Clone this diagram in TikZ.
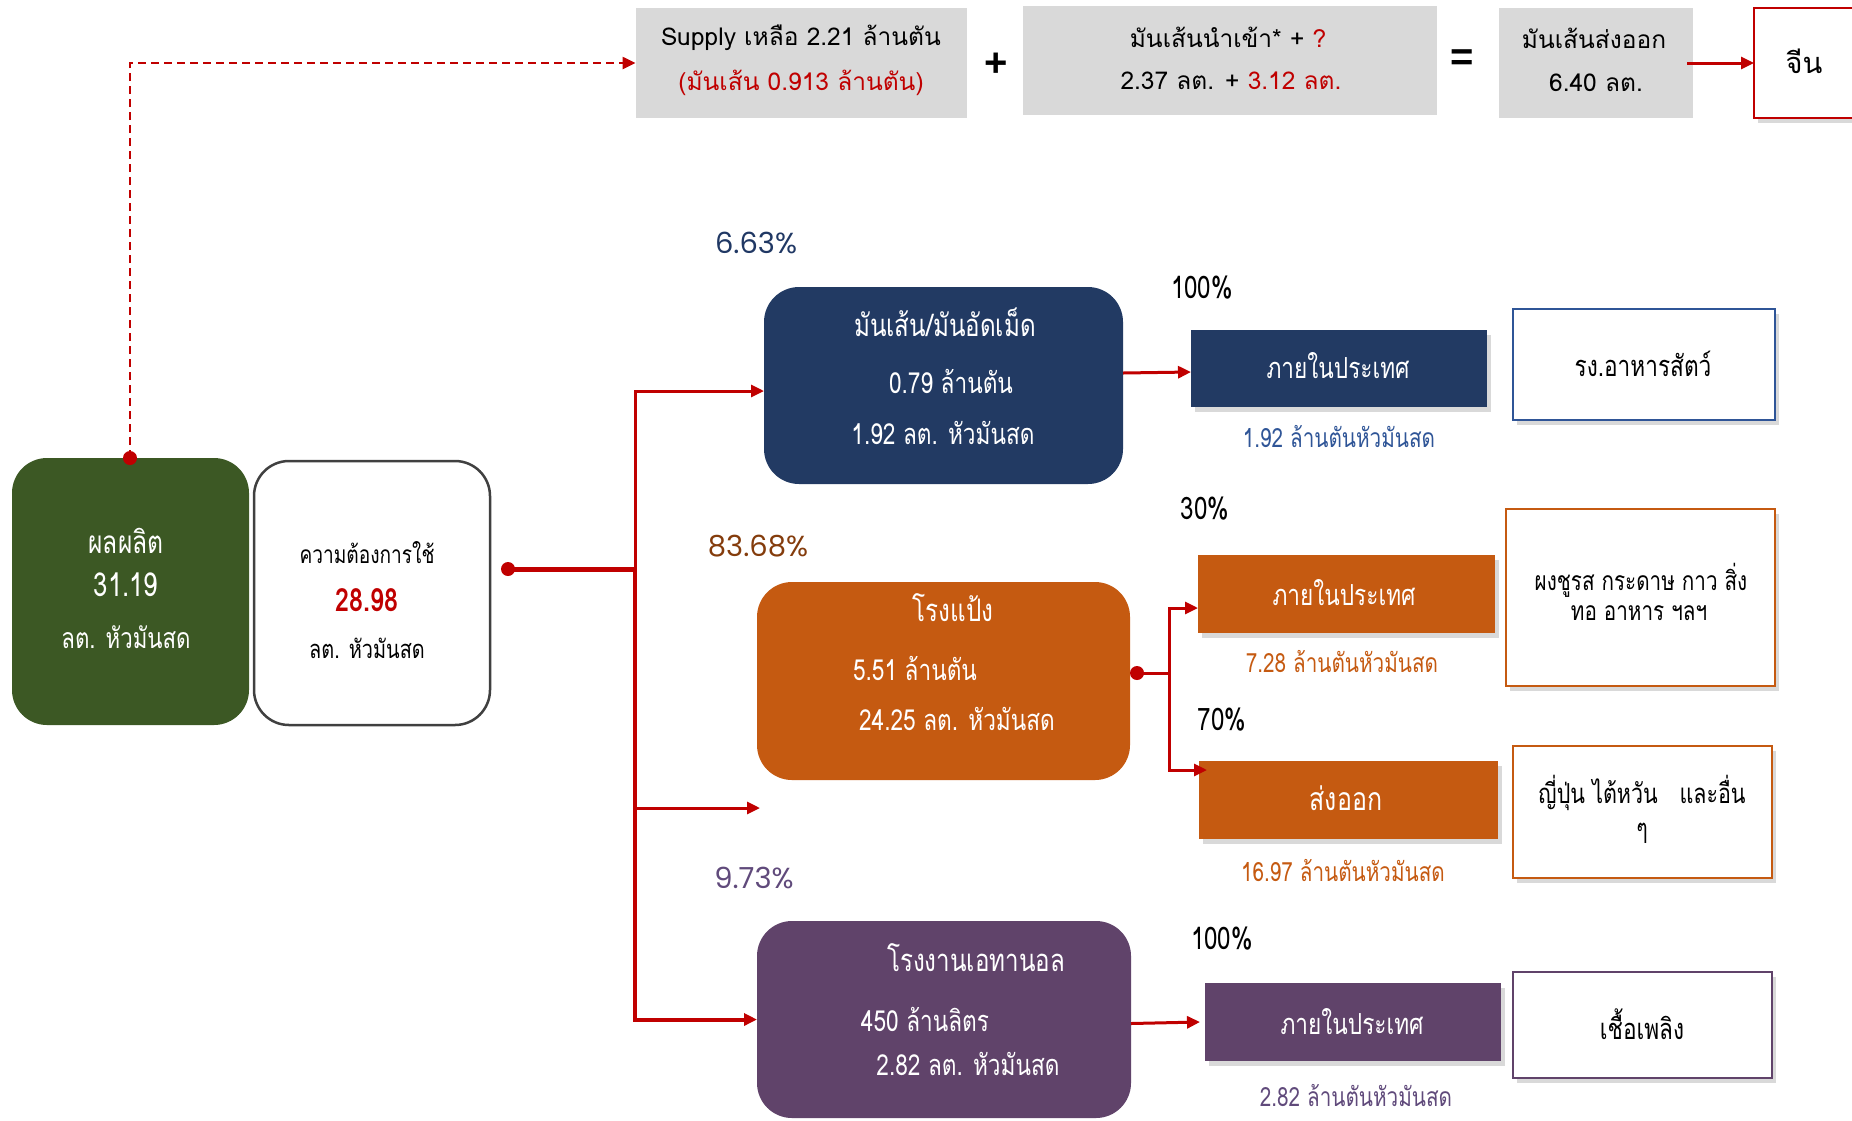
\documentclass[tikz,border=0pt]{standalone}
\usepackage{fontspec}
\setmainfont{Liberation Sans}
\newfontfamily\thaiA[Script=Thai]{Loma}
\newfontfamily\thaiC[Script=Thai,FakeStretch=0.78]{Loma}
\newfontfamily\pctfont{Poppins}
\usetikzlibrary{arrows.meta,shadows}
\newcommand{\myfs}[1]{\fontsize{#1}{#1}\selectfont}
\definecolor{dred}{RGB}{192,0,0}
\definecolor{pgreen}{RGB}{60,88,36}
\definecolor{pnavy}{RGB}{34,58,99}
\definecolor{porange}{RGB}{197,90,17}
\definecolor{ppurple}{RGB}{96,67,106}
\definecolor{lgray}{RGB}{217,217,217}
\definecolor{dgray}{RGB}{64,64,64}
\definecolor{navyT}{RGB}{32,56,100}
\definecolor{blueT}{RGB}{47,85,151}
\definecolor{brownT}{RGB}{132,60,12}
\definecolor{purpleT}{RGB}{96,74,123}
\begin{document}
\begin{tikzpicture}[x=1pt,y=-1pt,
  every node/.style={inner sep=0pt,outer sep=0pt},
  redln/.style={draw=dred,line width=3pt},
  arr/.style={redln,-{Triangle[length=13pt,width=12pt]}},
  bigbox/.style={rounded corners=35pt,draw=none},
  shad/.style={drop shadow={shadow xshift=4pt,shadow yshift=-5pt,opacity=0.3}},
  rect/.style={draw=none,shad},
  wbox/.style={fill=white,line width=2pt,shad},
  gbox/.style={fill=lgray},
  tx/.style={font=\thaiC\myfs{29}},
  txs/.style={font=\thaiC\myfs{26.5}},
  txp/.style={font=\thaiC\myfs{31}},
  txtop/.style={font=\thaiA\myfs{24.5}},
  pct/.style={font=\pctfont\myfs{29}},
  dot/.style={circle,fill=dred,minimum size=14pt}
]
\useasboundingbox (0,0) rectangle (1852,1120);
\clip (0,0) rectangle (1852,1120);

% ---------- top row ----------
\node[gbox,minimum width=331pt,minimum height=110pt] (supply) at (801,63) {};
\node[txtop] (supplyA) at (801,38) {Supply เหลือ 2.21 ล้านตัน};
\node[txtop,text=dred] (supplyB) at (801,83) {(มันเส้น 0.913 ล้านตัน)};
\node[font=\bfseries\myfs{40}] (plus) at (996,65) {+};
\node[gbox,minimum width=414pt,minimum height=109pt] (imp) at (1230,60) {};
\node[txtop] (impA) at (1228,37) {มันเส้นนำเข้า* + \textcolor{dred}{?}};
\node[txtop] (impB) at (1231,81) {2.37 ลต. + \textcolor{dred}{3.12 ลต.}};
\node[font=\bfseries\myfs{40}] (eq) at (1462,60) {=};
\node[gbox,minimum width=194pt,minimum height=110pt] (expc) at (1596,63) {};
\node[txtop] (expcA) at (1594,38) {มันเส้นส่งออก};
\node[txtop] (expcB) at (1596,83) {6.40 ลต.};
\node[wbox,draw=dred,minimum width=110pt,minimum height=110pt] (china) at (1809,63) {};
\node[font=\thaiA\myfs{29}] (chinaT) at (1804,61) {จีน};
\draw[arr] ([xshift=-6pt]expc.east) -- (china.west);

% ---------- left boxes ----------
\node[bigbox,fill=pgreen,minimum width=237pt,minimum height=267pt] (prod) at (130.5,591.5) {};
\node[text=white,font=\thaiC\myfs{31.5}] (prodA) at (126,541) {ผลผลิต};
\node[text=white,font=\thaiC\myfs{33}] (prodB) at (126,585) {31.19};
\node[text=white,font=\thaiC\myfs{28.5}] (prodC) at (126,637) {ลต. หัวมันสด};
\node[bigbox,draw=dgray,line width=2.5pt,fill=white,minimum width=236pt,minimum height=264pt] (dem) at (372,593) {};
\node[font=\thaiC\myfs{24.5}] (demA) at (367,553) {ความต้องการใช้};
\node[text=dred,font=\thaiC\bfseries\myfs{32}] (demB) at (367,600) {28.98};
\node[font=\thaiC\myfs{25.5}] (demC) at (367,648) {ลต. หัวมันสด};

\node[dot] (pdot) at (130,458) {};
\draw[dred,line width=2.5pt,dash pattern=on 8pt off 5pt,-{Triangle[length=13pt,width=12pt]}] (pdot.center) |- (supply.west);

% ---------- middle boxes ----------
\node[bigbox,fill=pnavy,minimum width=359pt,minimum height=197pt] (chips) at (943.5,385.5) {};
\node[tx,text=white,font=\thaiC\myfs{31}] (chipsA) at (945,322) {มันเส้น/มันอัดเม็ด};
\node[tx,text=white] (chipsB) at (951,381) {0.79 ล้านตัน};
\node[tx,text=white] (chipsC) at (943,433) {1.92 ลต. หัวมันสด};
\node[pct,text=navyT] (pchips) at (756,243) {6.63\%};

\node[bigbox,fill=porange,minimum width=373pt,minimum height=198pt] (starch) at (943.5,681) {};
\node[tx,text=white,font=\thaiC\myfs{31}] (starchA) at (953,608) {โรงแป้ง};
\node[tx,text=white] (starchB) at (915,668) {5.51 ล้านตัน};
\node[tx,text=white] (starchC) at (957,719) {24.25 ลต. หัวมันสด};
\node[pct,text=brownT] (pstarch) at (758,546) {83.68\%};

\node[bigbox,fill=ppurple,minimum width=374pt,minimum height=197pt] (eth) at (944,1019.5) {};
\node[tx,text=white,font=\thaiC\myfs{31}] (ethA) at (976,958) {โรงงานเอทานอล};
\node[tx,text=white] (ethB) at (925,1019) {450 ล้านลิตร};
\node[tx,text=white] (ethC) at (968,1064) {2.82 ลต. หัวมันสด};
\node[pct,text=purpleT] (peth) at (754,878) {9.73\%};

% ---------- trunk ----------
\node[dot] (ddot) at (508,569) {};
\coordinate (tr) at (635,569);
\coordinate (midEnd) at (760,808);
\draw[dred,line width=5pt] (ddot.center) -- (tr);
\draw[arr] (tr) |- ([yshift=-5.5pt]chips.west);
\draw[arr,line width=4pt] (tr) |- (eth.west);
\draw[arr] (tr) |- (midEnd);

% ---------- right column ----------
\node[rect,fill=pnavy,minimum width=296pt,minimum height=77pt] (dom1) at (1339,368.5) {};
\node[tx,text=white] (dom1T) at (1338,366) {ภายในประเทศ};
\node[txp] (p1) at (1202,288) {100\%};
\node[txs,text=blueT] (cap1) at (1339,436) {1.92 ล้านตันหัวมันสด};
\node[wbox,draw=blueT,minimum width=262pt,minimum height=111pt] (feed) at (1644,364.5) {};
\node[tx] (feedT) at (1643,364) {รง.อาหารสัตว์};
\draw[arr] ([yshift=12.5pt]chips.east) -- ([yshift=-3.5pt]dom1.west);

\node[rect,fill=porange,minimum width=297pt,minimum height=78pt] (dom2) at (1346.5,594) {};
\node[tx,text=white] (dom2T) at (1344,593) {ภายในประเทศ};
\node[txp] (p2) at (1205,509) {30\%};
\node[txs,text=porange] (cap2) at (1342,661) {7.28 ล้านตันหัวมันสด};
\node[wbox,draw=porange,minimum width=269pt,minimum height=177pt] (ind) at (1640.5,597.5) {};
\node[txs] (indA) at (1641,580) {ผงชูรส กระดาษ กาว สิ่ง};
\node[txs] (indB) at (1639,613) {ทอ อาหาร ฯลฯ};

\node[rect,fill=porange,minimum width=299pt,minimum height=78pt] (exp) at (1348.5,800) {};
\node[tx,text=white,font=\thaiC\myfs{32}] (expT) at (1346,798) {ส่งออก};
\node[txp] (p3) at (1222,720) {70\%};
\node[txs,text=porange] (cap3) at (1343,870) {16.97 ล้านตันหัวมันสด};
\node[wbox,draw=porange,minimum width=259pt,minimum height=132pt] (jp) at (1642.5,812) {};
\node[txs,font=\thaiC\myfs{27.5}] (jpA) at (1642,793) {ญี่ปุ่น ไต้หวัน \ \ และอื่น};
\node[txs,font=\thaiC\myfs{27.5}] (jpB) at (1642,833) {ๆ};

\node[dot] (sdot) at (1137,673) {};
\coordinate (sj) at (1169,673);
\draw[redln] (sdot.center) -- (sj);
\draw[arr] (sj) |- ([yshift=-14pt]dom2.west);
\draw[arr] (sj) |- ([xshift=8pt,yshift=30pt]exp.west);

\node[rect,fill=ppurple,minimum width=296pt,minimum height=78pt] (dom3) at (1353,1022) {};
\node[tx,text=white] (dom3T) at (1352,1022) {ภายในประเทศ};
\node[txp] (p4) at (1222,939) {100\%};
\node[txs,text=purpleT] (cap4) at (1356,1095) {2.82 ล้านตันหัวมันสด};
\node[wbox,draw=ppurple,minimum width=259pt,minimum height=106pt] (fuel) at (1642.5,1025) {};
\node[tx] (fuelT) at (1642,1024) {เชื้อเพลิง};
\draw[arr] ([yshift=-4pt]eth.east) -- ([xshift=-5pt]dom3.west);
\end{tikzpicture}
\end{document}
